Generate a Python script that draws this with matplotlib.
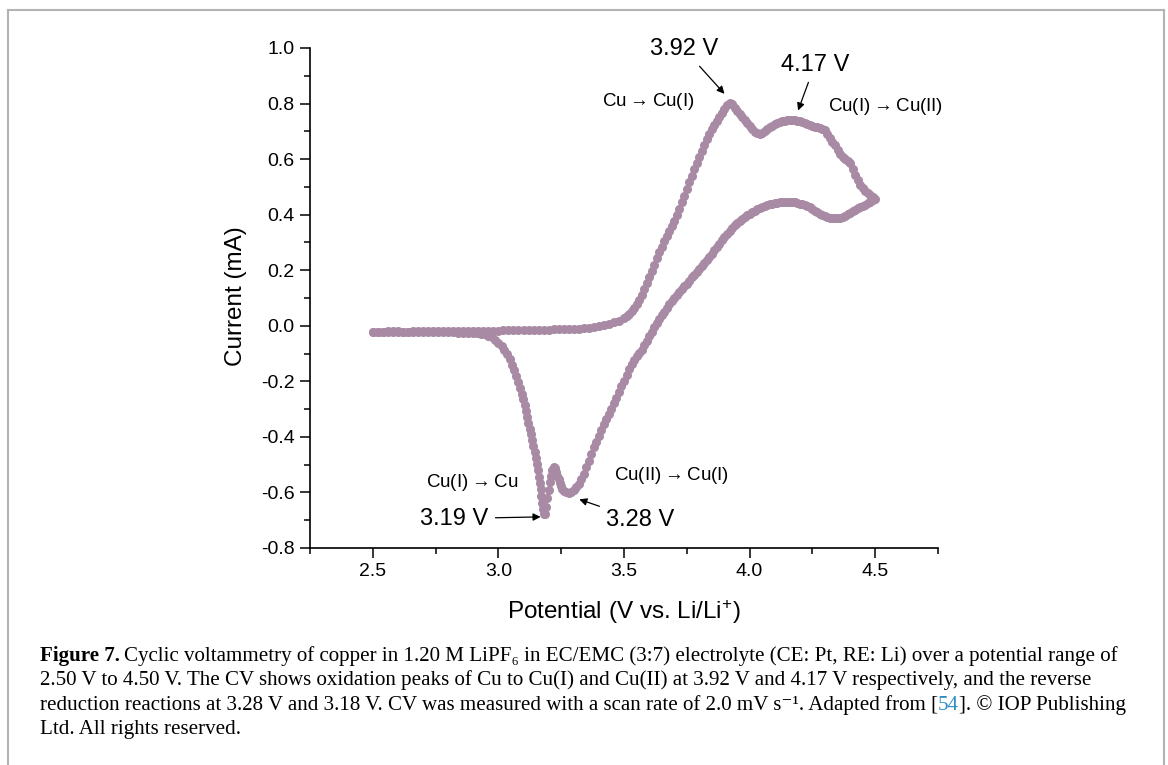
"""CV copper in LiPF6 EC/EMC - recreation."""
import matplotlib
matplotlib.use("Agg")
import matplotlib.pyplot as plt
from matplotlib.lines import Line2D
from matplotlib.ticker import MultipleLocator, FormatStrFormatter

plt.rcParams["font.family"] = ["Liberation Sans", "DejaVu Sans"]
plt.rcParams["mathtext.fontset"] = "custom"
plt.rcParams["mathtext.rm"] = "Liberation Sans"
plt.rcParams["mathtext.default"] = "regular"
plt.rcParams["axes.unicode_minus"] = False

# anodic sweep 2.5 -> 4.5 V
forward_v = [2.50, 2.52, 2.54, 2.56, 2.58, 2.60, 2.62, 2.64, 2.66, 2.68,
             2.70, 2.72, 2.74, 2.76, 2.78, 2.80, 2.82, 2.84, 2.86, 2.88,
             2.90, 2.92, 2.94, 2.96, 2.98, 3.00, 3.02, 3.04, 3.06, 3.08,
             3.10, 3.12, 3.14, 3.16, 3.18, 3.20, 3.22, 3.24, 3.26, 3.28,
             3.30, 3.32, 3.34, 3.36, 3.38, 3.40, 3.42, 3.44, 3.46, 3.48,
             3.50, 3.51, 3.52, 3.53, 3.54, 3.55, 3.56, 3.57, 3.58, 3.59,
             3.60, 3.61, 3.62, 3.63, 3.64, 3.65, 3.66, 3.67, 3.68, 3.69,
             3.70, 3.71, 3.72, 3.73, 3.74, 3.75, 3.76, 3.77, 3.78, 3.79,
             3.80, 3.81, 3.82, 3.83, 3.84, 3.85, 3.86, 3.87, 3.88, 3.89,
             3.90, 3.91, 3.92, 3.93, 3.94, 3.95, 3.96, 3.97, 3.98, 3.99,
             4.00, 4.01, 4.02, 4.03, 4.04, 4.05, 4.06, 4.07, 4.08, 4.09,
             4.10, 4.11, 4.12, 4.13, 4.14, 4.15, 4.16, 4.17, 4.18, 4.19,
             4.20, 4.21, 4.22, 4.23, 4.24, 4.25, 4.26, 4.27, 4.28, 4.29,
             4.30, 4.31, 4.32, 4.33, 4.34, 4.35, 4.36, 4.37, 4.38, 4.39,
             4.40, 4.41, 4.42, 4.43, 4.44, 4.45, 4.46, 4.47, 4.48, 4.49,
             4.50]
forward_i = [-0.021, -0.021, -0.021, -0.020, -0.020, -0.020, -0.021, -0.021, -0.020, -0.020,
             -0.020, -0.020, -0.020, -0.019, -0.019, -0.019, -0.019, -0.019, -0.019, -0.018,
             -0.018, -0.018, -0.018, -0.017, -0.017, -0.017, -0.016, -0.016, -0.016, -0.016,
             -0.015, -0.015, -0.015, -0.014, -0.014, -0.014, -0.013, -0.013, -0.012, -0.012,
             -0.011, -0.010, -0.009, -0.007, -0.005, -0.002, 0.002, 0.007, 0.012, 0.018,
             0.028, 0.034, 0.042, 0.052, 0.063, 0.077, 0.093, 0.112, 0.133, 0.155,
             0.177, 0.198, 0.220, 0.243, 0.265, 0.285, 0.305, 0.323, 0.341, 0.358,
             0.378, 0.400, 0.422, 0.445, 0.468, 0.492, 0.516, 0.540, 0.563, 0.586,
             0.608, 0.630, 0.652, 0.672, 0.690, 0.707, 0.722, 0.737, 0.752, 0.767,
             0.782, 0.795, 0.801, 0.797, 0.785, 0.772, 0.762, 0.753, 0.742, 0.730,
             0.718, 0.707, 0.698, 0.693, 0.692, 0.695, 0.701, 0.708, 0.714, 0.719,
             0.725, 0.730, 0.734, 0.737, 0.739, 0.741, 0.742, 0.742, 0.741, 0.739,
             0.737, 0.734, 0.731, 0.727, 0.723, 0.719, 0.716, 0.714, 0.712, 0.710,
             0.705, 0.692, 0.675, 0.662, 0.650, 0.632, 0.617, 0.607, 0.600, 0.594,
             0.585, 0.565, 0.543, 0.524, 0.508, 0.496, 0.487, 0.478, 0.470, 0.463,
             0.458]

# cathodic sweep 4.5 -> 2.5 V
reverse_v = [4.49, 4.48, 4.47, 4.46, 4.45, 4.44, 4.43, 4.42, 4.41, 4.40,
             4.39, 4.38, 4.37, 4.36, 4.35, 4.34, 4.33, 4.32, 4.31, 4.30,
             4.29, 4.28, 4.27, 4.26, 4.25, 4.24, 4.23, 4.22, 4.21, 4.20,
             4.19, 4.18, 4.17, 4.16, 4.15, 4.14, 4.13, 4.12, 4.11, 4.10,
             4.09, 4.08, 4.07, 4.06, 4.05, 4.04, 4.03, 4.02, 4.01, 4.00,
             3.99, 3.98, 3.97, 3.96, 3.95, 3.94, 3.93, 3.92, 3.91, 3.90,
             3.89, 3.88, 3.87, 3.86, 3.85, 3.84, 3.83, 3.82, 3.81, 3.80,
             3.79, 3.78, 3.77, 3.76, 3.75, 3.74, 3.73, 3.72, 3.71, 3.70,
             3.69, 3.68, 3.67, 3.66, 3.65, 3.64, 3.63, 3.62, 3.61, 3.60,
             3.59, 3.58, 3.57, 3.56, 3.55, 3.54, 3.53, 3.52, 3.51, 3.50,
             3.49, 3.48, 3.47, 3.46, 3.45, 3.44, 3.43, 3.42, 3.41, 3.40,
             3.39, 3.38, 3.37, 3.36, 3.35, 3.34, 3.33, 3.32, 3.31, 3.30,
             3.29, 3.28, 3.27, 3.26, 3.255, 3.25, 3.245, 3.24, 3.235, 3.23,
             3.225, 3.22, 3.215, 3.21, 3.205, 3.20, 3.195, 3.19, 3.185, 3.18,
             3.177, 3.174, 3.171, 3.168, 3.165, 3.162, 3.158, 3.154, 3.149, 3.144,
             3.139, 3.134, 3.129, 3.124, 3.119, 3.114, 3.109, 3.104, 3.099, 3.093,
             3.087, 3.080, 3.072, 3.064, 3.055, 3.045, 3.035, 3.024, 3.013, 3.000,
             2.987, 2.973, 2.959, 2.945, 2.930, 2.915, 2.90, 2.88, 2.86, 2.84,
             2.82, 2.80, 2.78, 2.76, 2.74, 2.72, 2.70, 2.68, 2.66, 2.64,
             2.62, 2.60, 2.58, 2.56, 2.54, 2.52, 2.50]
reverse_i = [0.453, 0.446, 0.441, 0.436, 0.431, 0.427, 0.423, 0.418, 0.413, 0.407,
             0.401, 0.396, 0.392, 0.389, 0.388, 0.388, 0.388, 0.389, 0.391, 0.394,
             0.398, 0.403, 0.409, 0.415, 0.421, 0.426, 0.430, 0.434, 0.437, 0.440,
             0.442, 0.444, 0.445, 0.446, 0.446, 0.446, 0.445, 0.444, 0.443, 0.441,
             0.439, 0.437, 0.434, 0.431, 0.428, 0.424, 0.420, 0.415, 0.410, 0.404,
             0.398, 0.391, 0.385, 0.379, 0.371, 0.362, 0.352, 0.342, 0.331, 0.320,
             0.308, 0.296, 0.284, 0.272, 0.260, 0.249, 0.237, 0.226, 0.215, 0.204,
             0.194, 0.184, 0.174, 0.163, 0.152, 0.142, 0.131, 0.121, 0.111, 0.100,
             0.089, 0.077, 0.064, 0.051, 0.038, 0.024, 0.010, -0.005, -0.021, -0.037,
             -0.054, -0.070, -0.086, -0.098, -0.110, -0.122, -0.138, -0.156, -0.177, -0.197,
             -0.218, -0.238, -0.259, -0.279, -0.298, -0.317, -0.336, -0.355, -0.374, -0.395,
             -0.417, -0.438, -0.462, -0.486, -0.510, -0.532, -0.552, -0.569, -0.582, -0.592,
             -0.598, -0.601, -0.600, -0.593, -0.586, -0.576, -0.565, -0.553, -0.540, -0.526,
             -0.513, -0.508, -0.520, -0.540, -0.563, -0.590, -0.620, -0.652, -0.676, -0.678,
             -0.660, -0.638, -0.612, -0.588, -0.565, -0.543, -0.520, -0.498, -0.476, -0.455,
             -0.434, -0.412, -0.391, -0.370, -0.349, -0.327, -0.306, -0.285, -0.265, -0.244,
             -0.223, -0.202, -0.180, -0.160, -0.140, -0.120, -0.103, -0.088, -0.074, -0.061,
             -0.050, -0.042, -0.036, -0.031, -0.028, -0.026, -0.025, -0.025, -0.025, -0.025,
             -0.024, -0.024, -0.024, -0.024, -0.024, -0.024, -0.023, -0.023, -0.023, -0.023,
             -0.023, -0.023, -0.023, -0.022, -0.022, -0.022, -0.022]

# peak labels: (text, text position, arrow tip) in data units
peak_labels = [("3.92 V", (3.74, 0.995), (3.900, 0.835)),
               ("4.17 V", (4.26, 0.940), (4.193, 0.775)),
               ("3.19 V", (2.825, -0.694), (3.168, -0.688)),
               ("3.28 V", (3.565, -0.700), (3.322, -0.625))]
reaction_labels = [(r"Cu$\rightarrow$Cu(I)", (3.596, 0.809)),
                   (r"Cu(I)$\rightarrow$Cu(II)", (4.54, 0.788)),
                   (r"Cu(I)$\rightarrow$Cu", (2.894, -0.565)),
                   (r"Cu(II)$\rightarrow$Cu(I)", (3.691, -0.540))]

W, H = 1168, 765
DOT = "#a88aa4"

fig = plt.figure(figsize=(W / 100, H / 100), dpi=100)
ax = fig.add_axes([310 / W, 1 - 548 / H, 628 / W, 500 / H])

ax.plot(forward_v, forward_i, "o", color=DOT, ms=6.5, mew=0)
ax.plot(reverse_v, reverse_i, "o", color=DOT, ms=6.5, mew=0)

ax.set_xlim(2.25, 4.75)
ax.set_ylim(-0.8, 1.0)
ax.xaxis.set_major_locator(MultipleLocator(0.5))
ax.xaxis.set_minor_locator(MultipleLocator(0.25))
ax.yaxis.set_major_locator(MultipleLocator(0.2))
ax.yaxis.set_minor_locator(MultipleLocator(0.1))
ax.xaxis.set_major_formatter(FormatStrFormatter("%.1f"))
ax.yaxis.set_major_formatter(FormatStrFormatter("%.1f"))
for side in ("top", "right"):
    ax.spines[side].set_visible(False)
for side in ("left", "bottom"):
    ax.spines[side].set_linewidth(1.2)
ax.tick_params(which="major", direction="out", length=7, width=1.1, labelsize=14, pad=4)
ax.tick_params(which="minor", direction="out", length=4, width=1.1)

ax.set_xlabel("Potential (V vs. Li/Li$^{+}$)", fontsize=17.5)
ax.set_ylabel("Current (mA)", fontsize=17.5)
ax.xaxis.set_label_coords(0.5, -0.1)
ax.yaxis.set_label_coords(-0.1, 0.504)

for txt, pos, tip in peak_labels:
    ax.annotate(txt, xy=tip, xytext=pos, ha="center", va="center", fontsize=17,
                arrowprops=dict(arrowstyle="-|>", color="black", lw=0.9,
                                mutation_scale=11, shrinkA=3, shrinkB=0))
for txt, pos in reaction_labels:
    ax.text(pos[0], pos[1], txt, ha="center", va="center", fontsize=13.5)

# grey frame around the figure panel
fx = lambda px: px / W
fy = lambda py: 1 - py / H
grey = "#b4b4b4"
fig.add_artist(Line2D([fx(8), fx(8)], [fy(10), 0], color=grey, lw=1.5))
fig.add_artist(Line2D([fx(8), fx(1164)], [fy(10), fy(10)], color=grey, lw=1.5))
fig.add_artist(Line2D([fx(1164), fx(1164)], [fy(10), 0], color=grey, lw=1.5))

# caption
serif = ["Liberation Serif", "DejaVu Serif"]
cap_size = 15.1
renderer = fig.canvas.get_renderer()


def put_runs(x_px, y_px, runs):
    """Пишет куски текста подряд по одной базовой линии."""
    for s, kw in runs:
        t = fig.text(fx(x_px), fy(y_px), s, family=serif, fontsize=cap_size,
                     va="baseline", ha="left", **kw)
        x_px += t.get_window_extent(renderer).width
    return x_px


x = put_runs(40, 661, [("Figure 7.", {"weight": "bold"})])
put_runs(x + 4.5, 661, [("Cyclic voltammetry of copper in 1.20 M LiPF\u2086 in EC/EMC (3:7) electrolyte "
                         "(CE: Pt, RE: Li) over a potential range of", {})])
put_runs(40, 685, [("2.50 V to 4.50 V. The CV shows oxidation peaks of Cu to Cu(I) and Cu(II) at "
                    "3.92 V and 4.17 V respectively, and the reverse", {})])
put_runs(40, 710, [("reduction reactions at 3.28 V and 3.18 V. CV was measured with a scan rate of "
                    "2.0 mV s\u207b\u00b9. Adapted from [", {}),
                   ("54", {"color": "#2b8cc4"}),
                   ("]. \u00a9 IOP Publishing", {})])
put_runs(40, 734, [("Ltd. All rights reserved.", {})])

fig.savefig("out.png", dpi=100)
